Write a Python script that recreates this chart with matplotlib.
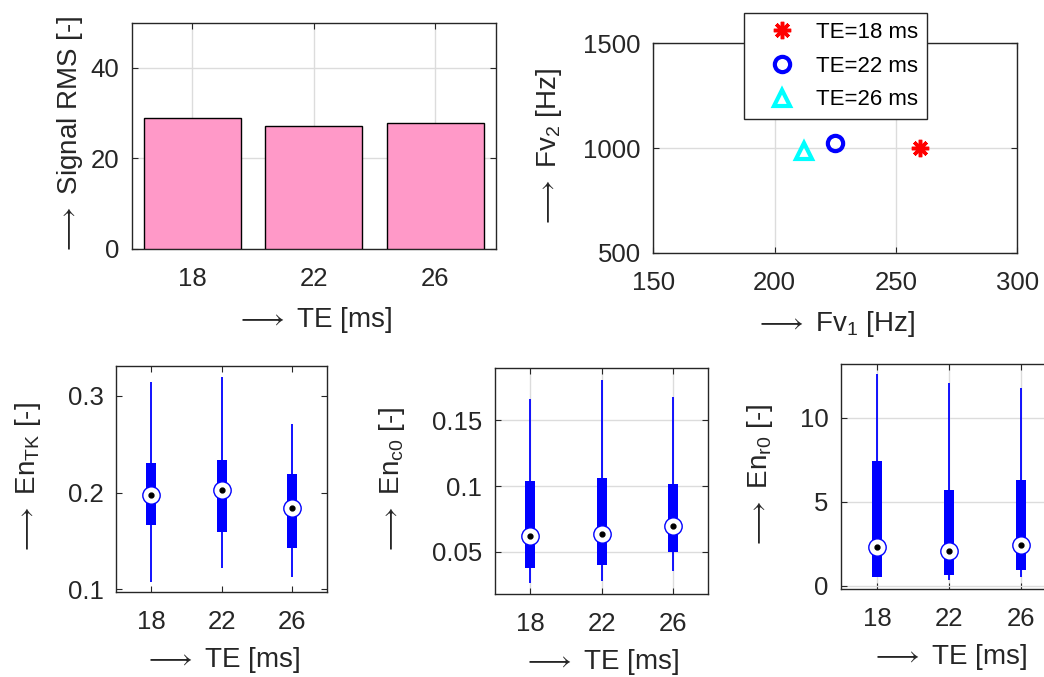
import matplotlib
matplotlib.use("Agg")
import matplotlib.pyplot as plt
import numpy as np

plt.rcParams['font.family'] = ['Liberation Sans', 'DejaVu Sans']
plt.rcParams['mathtext.fontset'] = 'custom'
plt.rcParams['mathtext.rm'] = 'Liberation Sans'
plt.rcParams['mathtext.it'] = 'Liberation Sans:italic'
plt.rcParams['mathtext.bf'] = 'Liberation Sans:bold'

# ---- data ----
te = [18, 22, 26]
te_labels = ["18", "22", "26"]
signal_rms = [28.8, 27.1, 27.9]

fv1 = [260, 225, 212]
fv2 = [1000, 1022, 985]
legend_labels = ["TE=18 ms", "TE=22 ms", "TE=26 ms"]

# box stats: whisker low, q1, median, q3, whisker high
entk_lo = [0.108, 0.122, 0.113]
entk_q1 = [0.166, 0.159, 0.143]
entk_med = [0.197, 0.203, 0.184]
entk_q3 = [0.230, 0.234, 0.219]
entk_hi = [0.314, 0.319, 0.271]

enc0_lo = [0.026, 0.028, 0.0355]
enc0_q1 = [0.0378, 0.0396, 0.0495]
enc0_med = [0.0622, 0.0635, 0.0696]
enc0_q3 = [0.1036, 0.1063, 0.1015]
enc0_hi = [0.166, 0.181, 0.168]

enr0_lo = [0.50, 0.34, 0.50]
enr0_q1 = [0.54, 0.64, 0.93]
enr0_med = [2.30, 2.08, 2.42]
enr0_q3 = [7.40, 5.71, 6.31]
enr0_hi = [12.6, 12.08, 11.79]

TXT = '#262626'
GRID = '#dcdcdc'
FS = 18.5
LFS = 20
ARROW = r'$\longrightarrow$ '

fig = plt.figure(figsize=(10.44, 6.77), dpi=100)


def style(ax, grid=True):
    for s in ax.spines.values():
        s.set_color(TXT)
        s.set_linewidth(1.0)
    ax.tick_params(direction='in', length=4, width=0.8, colors=TXT,
                   labelsize=FS, top=True, right=True)
    ax.tick_params(axis='x', pad=13)
    ax.tick_params(axis='y', pad=9)
    if grid:
        ax.grid(True, color=GRID, linewidth=1.0)
        ax.set_axisbelow(True)


# ---- top-left bar chart ----
ax1 = fig.add_axes([0.1261, 0.6327, 0.349, 0.3338])
ax1.bar(te, signal_rms, width=3.2, color='#ff99c8', edgecolor='black', linewidth=1.0, zorder=3)
ax1.set_xlim(16, 28)
ax1.set_ylim(0, 50)
ax1.set_xticks(te)
ax1.set_xticklabels(te_labels)
ax1.set_yticks([0, 20, 40])
style(ax1)
ax1.set_xlabel(ARROW + 'TE [ms]', fontsize=LFS, color=TXT, labelpad=10)
ax1.set_ylabel(ARROW + 'Signal RMS [-]', fontsize=LFS, color=TXT, labelpad=4)

# ---- top-right scatter ----
ax2 = fig.add_axes([0.6258, 0.6267, 0.3487, 0.3093])
styles = [dict(marker=(8, 2, 0), color='red', ms=12.5, mew=2.5, mfc='none'),
          dict(marker='o', color='#0000ff', ms=11, mew=3, mfc='none'),
          dict(marker='^', color='cyan', ms=12, mew=3, mfc='none')]
for x, y, lab, st in zip(fv1, fv2, legend_labels, styles):
    ax2.plot([x], [y], linestyle='none', label=lab, marker=st['marker'],
             color=st['color'], markersize=st['ms'], markeredgewidth=st['mew'],
             markerfacecolor=st['mfc'], zorder=3)
ax2.set_xlim(150, 300)
ax2.set_ylim(500, 1500)
ax2.set_xticks([150, 200, 250, 300])
ax2.set_yticks([500, 1000, 1500])
style(ax2)
ax2.set_xlabel(ARROW + r'Fv$_1$ [Hz]', fontsize=LFS, color=TXT, labelpad=10)
ax2.set_ylabel(ARROW + r'Fv$_2$ [Hz]', fontsize=LFS, color=TXT, labelpad=14)
leg = ax2.legend(loc='upper center', bbox_to_anchor=(0.5, 1.146), borderaxespad=0,
                 fontsize=16, fancybox=False, framealpha=1, edgecolor=TXT,
                 handletextpad=0.25, labelspacing=0.58, borderpad=0.4,
                 handlelength=2.6)
leg.get_frame().set_linewidth(1.0)
for t in leg.get_texts():
    t.set_color('black')


# ---- bottom box plots ----
def compact_box(ax, lo, q1, med, q3, hi):
    ax.vlines(te, lo, hi, color='#0000ff', linewidth=1.3, zorder=3)
    ax.vlines(te, q1, q3, color='#0000ff', linewidth=7.2, zorder=3)
    ax.plot(te, med, linestyle='none', marker='o', markersize=12.5,
            markerfacecolor='white', markeredgecolor='#0000ff', markeredgewidth=1.0, zorder=4)
    ax.plot(te, med, linestyle='none', marker='o', markersize=3.5,
            markerfacecolor='black', markeredgecolor='black', zorder=5)
    ax.set_xlim(16, 28)
    ax.set_xticks(te)
    ax.set_xticklabels(te_labels)


ax3 = fig.add_axes([0.1114, 0.1251, 0.2021, 0.3347])
compact_box(ax3, entk_lo, entk_q1, entk_med, entk_q3, entk_hi)
ax3.set_ylim(0.0969, 0.331)
ax3.set_yticks([0.1, 0.2, 0.3])
ax3.set_yticklabels(['0.1', '0.2', '0.3'])
style(ax3, grid=False)
ax3.set_xlabel(ARROW + 'TE [ms]', fontsize=LFS, color=TXT, labelpad=8)
ax3.set_ylabel(ARROW + r'En$_{\mathrm{TK}}$ [-]', fontsize=LFS, color=TXT, labelpad=18)

ax4 = fig.add_axes([0.4739, 0.1230, 0.2046, 0.333])
compact_box(ax4, enc0_lo, enc0_q1, enc0_med, enc0_q3, enc0_hi)
ax4.set_ylim(0.018, 0.1896)
ax4.set_yticks([0.05, 0.1, 0.15])
ax4.set_yticklabels(['0.05', '0.1', '0.15'])
style(ax4)
ax4.set_xlabel(ARROW + 'TE [ms]', fontsize=LFS, color=TXT, labelpad=8)
ax4.set_ylabel(ARROW + r'En$_{\mathrm{c0}}$ [-]', fontsize=LFS, color=TXT, labelpad=18)

ax5 = fig.add_axes([0.8056, 0.1295, 0.2069, 0.3328])
compact_box(ax5, enr0_lo, enr0_q1, enr0_med, enr0_q3, enr0_hi)
ax5.set_ylim(-0.214, 13.2)
ax5.set_yticks([0, 5, 10])
style(ax5)
ax5.set_xlabel(ARROW + 'TE [ms]', fontsize=LFS, color=TXT, labelpad=8)
ax5.set_ylabel(ARROW + r'En$_{\mathrm{r0}}$ [-]', fontsize=LFS, color=TXT, labelpad=18)

fig.savefig('out.png', dpi=100)
